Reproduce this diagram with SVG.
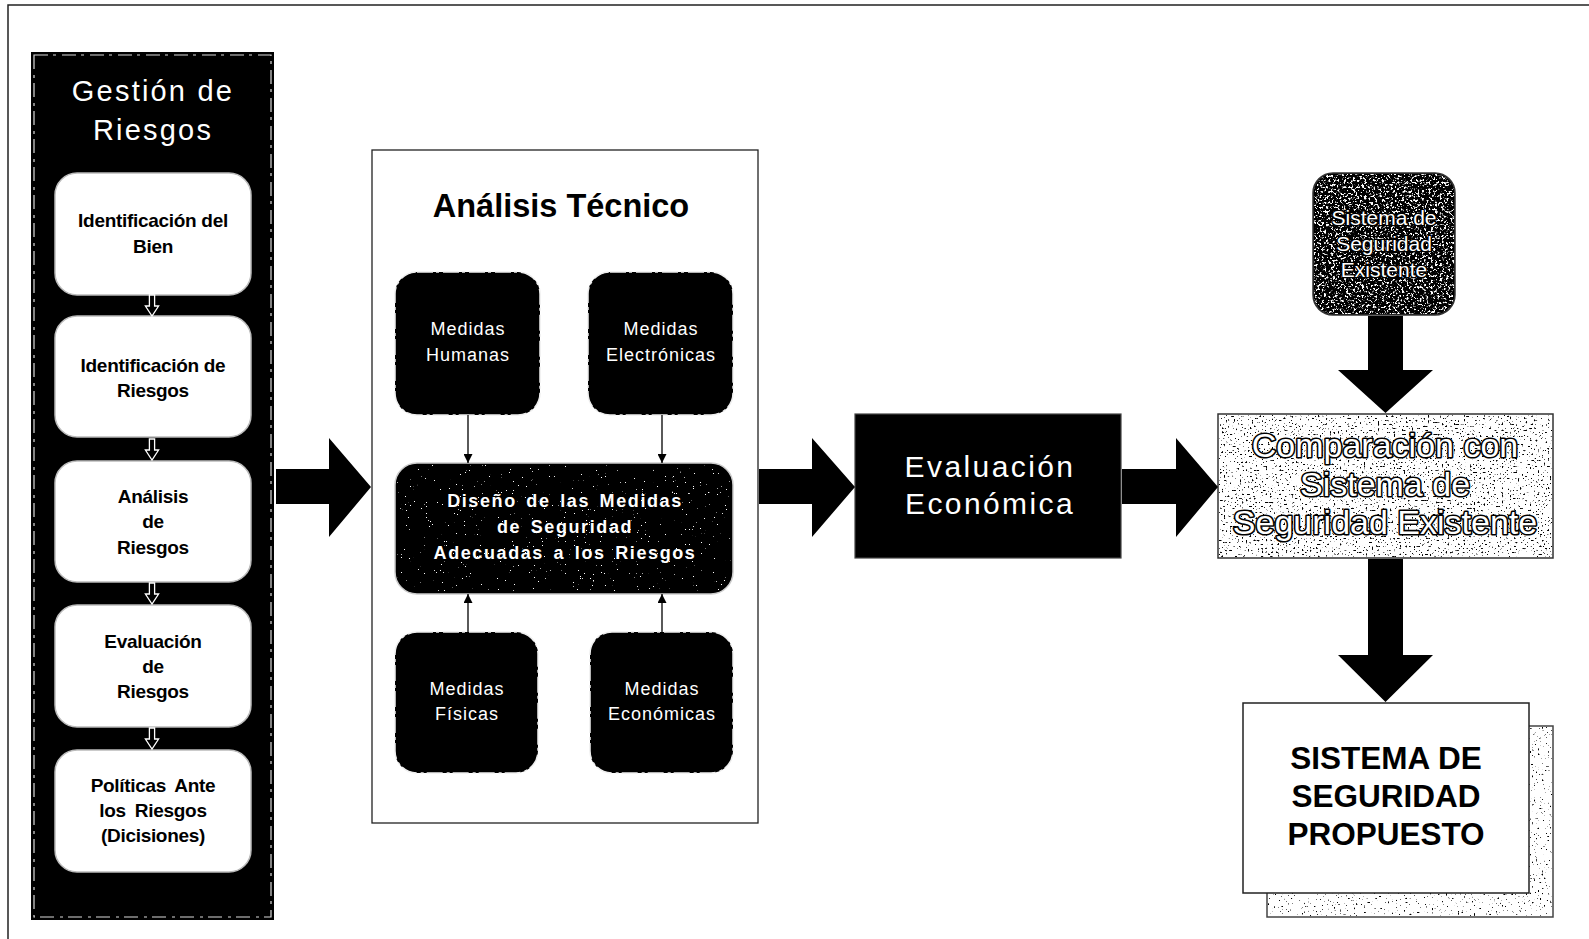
<svg xmlns="http://www.w3.org/2000/svg" xmlns:xlink="http://www.w3.org/1999/xlink" width="1589" height="939" viewBox="0 0 1589 939">
<style>
  text { font-family: "Liberation Sans", Arial, sans-serif; text-anchor: middle; }
  .frame { fill: none; stroke: #222; stroke-width: 1.5; }
  .panel { fill: #000; }
  .panelEdge { fill: none; stroke: #fff; stroke-width: 1.2; stroke-dasharray: 14 5 3 6; opacity: 0.85; }
  .step { fill: #fff; stroke: #bbb; stroke-width: 1.5; }
  .stepTxt { font-size: 19px; font-weight: bold; fill: #000; letter-spacing: -0.3px; }
  .gTitle { font-size: 29px; fill: #fff; letter-spacing: 2.2px; }
  .techBox { fill: #fff; stroke: #222; stroke-width: 1.3; }
  .techTitle { font-size: 32.5px; font-weight: bold; fill: #000; }
  .med { fill: #000; stroke: #eee; stroke-width: 1.5; stroke-dasharray: 16 3 3 4; }
  .medTxt { font-size: 18px; fill: #fff; letter-spacing: 1px; }
  .disTxt { font-size: 18px; font-weight: bold; fill: #fff; letter-spacing: 1.6px; word-spacing: 3px; }
  .evalBox { fill: #000; stroke: #444; stroke-width: 1.2; }
  .evalTxt { font-size: 30px; fill: #fff; letter-spacing: 2.4px; }
  .big { fill: #000; }
  .small { fill: #000; stroke: #fff; stroke-width: 1.3; }
  .thin { stroke: #000; stroke-width: 1.3; fill: none; marker-end: url(#tip); }
  .exTxt { font-size: 21px; fill: #fff; stroke: #000; stroke-width: 2.5; paint-order: stroke; }
  .cmpTxt { font-size: 34px; fill: #fff; stroke: #000; stroke-width: 3.2; paint-order: stroke; stroke-linejoin: round; }
  .propTxt { font-size: 31.5px; font-weight: bold; fill: #000; }
</style>
<defs>
  <marker id="tip" viewBox="0 0 10 10" refX="10" refY="5" markerWidth="9" markerHeight="9" markerUnits="userSpaceOnUse" orient="auto">
    <path d="M0,0 L10,5 L0,10 Z" fill="#000"/>
  </marker>
  <path id="smallArrow" d="M-2.6,0 V11 H-6.6 L0,21 L6.6,11 H2.6 V0 Z"/>
  <filter id="dotsWhite" x="0" y="0" width="1" height="1" color-interpolation-filters="sRGB">
    <feTurbulence type="fractalNoise" baseFrequency="0.75" numOctaves="2" seed="4"/>
    <feColorMatrix type="matrix" values="0 0 0 0 1  0 0 0 0 1  0 0 0 0 1  30 0 0 0 -22.5"/>
    <feComposite in2="SourceGraphic" operator="in"/>
  </filter>
  <filter id="heavyWhite" x="0" y="0" width="1" height="1" color-interpolation-filters="sRGB">
    <feTurbulence type="fractalNoise" baseFrequency="0.45" numOctaves="3" seed="7"/>
    <feColorMatrix type="matrix" values="0 0 0 0 1  0 0 0 0 1  0 0 0 0 1  9 0 0 0 -4.9"/>
    <feComposite in2="SourceGraphic" operator="in"/>
  </filter>
  <filter id="blackSpeck" x="0" y="0" width="1" height="1" color-interpolation-filters="sRGB">
    <feTurbulence type="fractalNoise" baseFrequency="0.5" numOctaves="3" seed="11"/>
    <feColorMatrix type="matrix" values="0 0 0 0 0  0 0 0 0 0  0 0 0 0 0  12 0 0 0 -7.7"/>
    <feComposite in2="SourceGraphic" operator="in"/>
  </filter>
  <filter id="lightSpeck" x="0" y="0" width="1" height="1" color-interpolation-filters="sRGB">
    <feTurbulence type="fractalNoise" baseFrequency="0.5" numOctaves="3" seed="19"/>
    <feColorMatrix type="matrix" values="0 0 0 0 0  0 0 0 0 0  0 0 0 0 0  14 0 0 0 -9.4"/>
    <feComposite in2="SourceGraphic" operator="in"/>
  </filter>
</defs>

<rect x="0" y="0" width="1589" height="939" fill="#fff"/>
<path class="frame" d="M8,939 V5 H1589"/>

<!-- Gestión de Riesgos panel -->
<g id="gestion-riesgos">
  <rect class="panel" x="31" y="52" width="243" height="868"/>
  <rect class="panelEdge" x="34" y="55" width="237" height="862"/>
  <text class="gTitle" x="153" y="101">Gestión de</text>
  <text class="gTitle" x="153" y="140">Riesgos</text>
</g>
<g id="identificacion-bien">
  <rect class="step" x="55" y="173" width="196" height="122" rx="22"/>
  <text class="stepTxt" x="153" y="227">Identificación del</text>
  <text class="stepTxt" x="153" y="253">Bien</text>
</g>
<g id="identificacion-riesgos">
  <rect class="step" x="55" y="316" width="196" height="121" rx="22"/>
  <text class="stepTxt" x="153" y="372">Identificación de</text>
  <text class="stepTxt" x="153" y="397">Riesgos</text>
</g>
<g id="analisis-riesgos">
  <rect class="step" x="55" y="461" width="196" height="121" rx="22"/>
  <text class="stepTxt" x="153" y="503">Análisis</text>
  <text class="stepTxt" x="153" y="528">de</text>
  <text class="stepTxt" x="153" y="554">Riesgos</text>
</g>
<g id="evaluacion-riesgos">
  <rect class="step" x="55" y="605" width="196" height="122" rx="22"/>
  <text class="stepTxt" x="153" y="648">Evaluación</text>
  <text class="stepTxt" x="153" y="673">de</text>
  <text class="stepTxt" x="153" y="698">Riesgos</text>
</g>
<g id="politicas">
  <rect class="step" x="55" y="750" width="196" height="122" rx="22"/>
  <text class="stepTxt" x="153" y="792" word-spacing="4">Políticas Ante</text>
  <text class="stepTxt" x="153" y="817" word-spacing="4">los Riesgos</text>
  <text class="stepTxt" x="153" y="842">(Dicisiones)</text>
</g>

<!-- Análisis Técnico -->
<g id="analisis-tecnico">
  <rect class="techBox" x="372" y="150" width="386" height="673"/>
  <text class="techTitle" x="561" y="217">Análisis Técnico</text>
</g>
<g id="medidas-humanas">
  <rect class="med" x="395" y="272" width="145" height="143" rx="22"/>
  <text class="medTxt" x="468" y="335">Medidas</text>
  <text class="medTxt" x="468" y="361">Humanas</text>
</g>
<g id="medidas-electronicas">
  <rect class="med" x="588" y="272" width="145" height="143" rx="22"/>
  <text class="medTxt" x="661" y="335">Medidas</text>
  <text class="medTxt" x="661" y="361">Electrónicas</text>
</g>
<g id="diseno">
  <rect x="395" y="463" width="338" height="131" rx="22" fill="#000" stroke="#ccc" stroke-width="1.5"/>
  <rect x="397" y="465" width="334" height="127" rx="20" fill="#fff" filter="url(#dotsWhite)"/>
  <text class="disTxt" x="565" y="507">Diseño de las Medidas</text>
  <text class="disTxt" x="565" y="533">de Seguridad</text>
  <text class="disTxt" x="565" y="559">Adecuadas a los Riesgos</text>
</g>
<g id="medidas-fisicas">
  <rect class="med" x="395" y="632" width="143" height="141" rx="22"/>
  <text class="medTxt" x="467" y="695">Medidas</text>
  <text class="medTxt" x="467" y="720">Físicas</text>
</g>
<g id="medidas-economicas">
  <rect class="med" x="590" y="632" width="143" height="141" rx="22"/>
  <text class="medTxt" x="662" y="695">Medidas</text>
  <text class="medTxt" x="662" y="720">Económicas</text>
</g>

<!-- Evaluación Económica -->
<g id="evaluacion-economica">
  <rect class="evalBox" x="855" y="414" width="266" height="144"/>
  <text class="evalTxt" x="990" y="477">Evaluación</text>
  <text class="evalTxt" x="990" y="514">Económica</text>
</g>

<!-- Sistema de Seguridad Existente -->
<g id="sistema-existente">
  <rect x="1313" y="173" width="142" height="142" rx="20" fill="#000" stroke="#333" stroke-width="1.5"/>
  <rect x="1314" y="174" width="140" height="140" rx="19" fill="#fff" filter="url(#heavyWhite)"/>
  <text class="exTxt" x="1384" y="225">Sistema de</text>
  <text class="exTxt" x="1384" y="251">Seguridad</text>
  <text class="exTxt" x="1384" y="277">Existente</text>
</g>

<!-- Comparación -->
<g id="comparacion">
  <rect x="1218" y="414" width="335" height="144" fill="#fff" stroke="#333" stroke-width="1.5"/>
  <rect x="1219" y="415" width="333" height="142" fill="#000" filter="url(#blackSpeck)"/>
  <text class="cmpTxt" x="1385" y="457">Comparación con</text>
  <text class="cmpTxt" x="1385" y="496">Sistema de</text>
  <text class="cmpTxt" x="1385" y="534">Seguridad Existente</text>
</g>

<!-- Sistema de Seguridad Propuesto -->
<g id="sistema-propuesto">
  <rect x="1267" y="726" width="286" height="191" fill="#fff" stroke="#444" stroke-width="1.5"/>
  <rect x="1268" y="727" width="284" height="189" fill="#000" filter="url(#lightSpeck)"/>
  <rect x="1243" y="703" width="286" height="190" fill="#fff" stroke="#222" stroke-width="1.5"/>
  <text class="propTxt" x="1386" y="769">SISTEMA DE</text>
  <text class="propTxt" x="1386" y="807">SEGURIDAD</text>
  <text class="propTxt" x="1386" y="845">PROPUESTO</text>
</g>

<!-- Connectors -->
<g id="connectors">
  <use href="#smallArrow" class="small" x="152" y="295"/>
  <use href="#smallArrow" class="small" x="152" y="439"/>
  <use href="#smallArrow" class="small" x="152" y="583"/>
  <use href="#smallArrow" class="small" x="152" y="728"/>

  <path class="big" d="M276,469 H329 V438 L371,487 L329,537 V504 H276 Z"/>
  <path class="big" d="M759,469 H812 V438 L855,487 L812,537 V504 H759 Z"/>
  <path class="big" d="M1122,469 H1176 V438 L1218,487 L1176,537 V504 H1122 Z"/>
  <path class="big" d="M1368,316 V370 H1338 L1385.5,413 L1433,370 H1403 V316 Z"/>
  <path class="big" d="M1368,559 V655 H1338 L1385.5,702 L1433,655 H1403 V559 Z"/>

  <line class="thin" x1="468" y1="415" x2="468" y2="463"/>
  <line class="thin" x1="662" y1="415" x2="662" y2="463"/>
  <line class="thin" x1="468" y1="632" x2="468" y2="594"/>
  <line class="thin" x1="662" y1="632" x2="662" y2="594"/>
</g>
</svg>
